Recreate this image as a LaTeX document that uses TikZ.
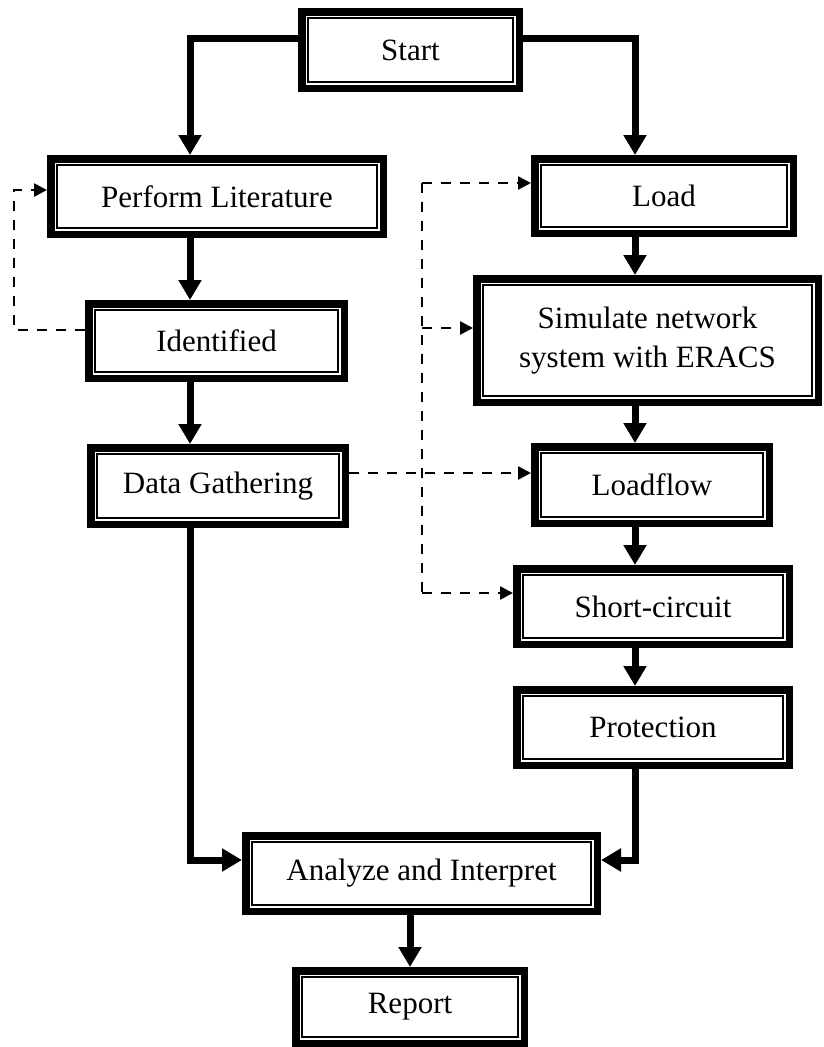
\documentclass[tikz,border=0pt]{standalone}
\usepackage{fontspec}
\setmainfont{Liberation Serif}
\usetikzlibrary{arrows.meta,calc}
\begin{document}
\begin{tikzpicture}[x=1pt,y=-1pt,
  box/.style={draw, line width=7.5pt, inner sep=0pt, align=center,
    font=\fontsize{31}{38.5}\selectfont},
  conn/.style={line width=7pt, -{Triangle[width=22pt,length=20pt]}},
  dline/.style={line width=2.6pt, dash pattern=on 10pt off 9pt},
  darr/.style={dline, -{Triangle[width=13pt,length=13pt]}}]
\useasboundingbox (0,0) rectangle (823,1047);

% boxes
\node[box, minimum width=217.5pt, minimum height=76.5pt] (start) at (410.5,50) {Start};
\node[box, minimum width=332.5pt, minimum height=75.5pt] (perform) at (217,196.5) {Perform Literature};
\node[box, minimum width=255.5pt, minimum height=74.5pt] (ident) at (216.5,341) {Identified};
\node[box, minimum width=254.5pt, minimum height=76.5pt] (data) at (218,486) {Data Gathering};
\node[box, minimum width=258.5pt, minimum height=74.5pt] (load) at (664,196) {Load};
\node[box, minimum width=341.5pt, minimum height=123.5pt] (sim) at (647.5,340.5) {Simulate network\\system with ERACS};
\node[box, minimum width=234.5pt, minimum height=76.5pt] (loadflow) at (652,485) {Loadflow};
\node[box, minimum width=272.5pt, minimum height=75.5pt] (short) at (653,606.5) {Short-circuit};
\node[box, minimum width=272.5pt, minimum height=75.5pt] (prot) at (653,727.5) {Protection};
\node[box, minimum width=351.5pt, minimum height=75.5pt] (analyze) at (421.5,873.5) {Analyze and Interpret};
\node[box, minimum width=228.5pt, minimum height=72.5pt] (report) at (410,1007) {Report};

% inner thin frames
\foreach \n in {start,perform,ident,data,load,sim,loadflow,short,prot,analyze,report}
  \draw[line width=2pt] ([shift={(10pt,-10pt)}]\n.north west) rectangle ([shift={(-10pt,10pt)}]\n.south east);

% column coordinates
\coordinate (lx) at (190,0);
\coordinate (rx) at (635,0);
\coordinate (dx) at (422,0);
\coordinate (dlx) at (14,0);

% solid connectors
\draw[conn] ([yshift=12pt]start.west) -| (lx |- perform.north);
\draw[conn] ([yshift=12pt]start.east) -| (rx |- load.north);
\draw[conn] (lx |- perform.south) -- (lx |- ident.north);
\draw[conn] (lx |- ident.south) -- (lx |- data.north);
\draw[conn] (lx |- data.south) |- ([yshift=13.5pt]analyze.west);
\draw[conn] (rx |- load.south) -- (rx |- sim.north);
\draw[conn] (rx |- sim.south) -- (rx |- loadflow.north);
\draw[conn] (rx |- loadflow.south) -- (rx |- short.north);
\draw[conn] (rx |- short.south) -- (rx |- prot.north);
\draw[conn] (rx |- prot.south) |- ([yshift=13.5pt]analyze.east);
\draw[conn] (report.north |- analyze.south) -- (report.north);

% dashed connectors
\coordinate (iOut) at ([yshift=11pt]ident.west);
\coordinate (pIn) at ([yshift=6.5pt]perform.west);
\draw[darr] (iOut) -| (dlx |- pIn) -- (pIn);

\coordinate (dOut) at ([yshift=13pt]data.east);
\coordinate (lIn) at ([yshift=13pt]load.west);
\coordinate (mIn) at ([yshift=12.5pt]sim.west);
\coordinate (sIn) at ([yshift=13.5pt]short.west);
\draw[darr] (dOut) -- (dOut -| loadflow.west);
\draw[dline] (dx |- lIn) -- (dx |- sIn);
\draw[darr] (dx |- lIn) -- (lIn);
\draw[darr] (dx |- mIn) -- (mIn);
\draw[darr] (dx |- sIn) -- (sIn);
\end{tikzpicture}
\end{document}
